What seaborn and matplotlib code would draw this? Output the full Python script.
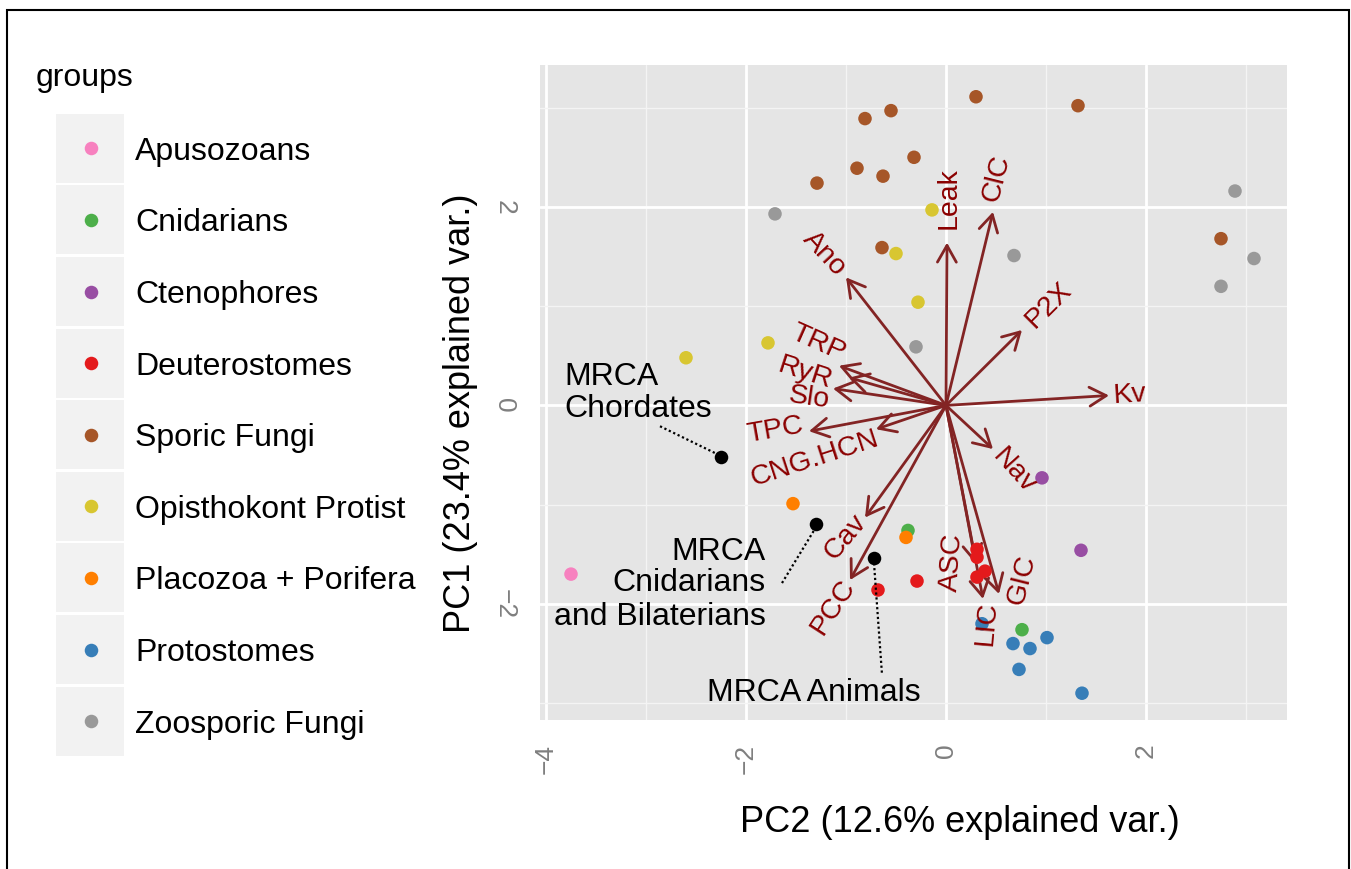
import numpy as np
import pandas as pd
import matplotlib
matplotlib.use("Agg")
import matplotlib.pyplot as plt
import seaborn as sns
from matplotlib.patches import Rectangle

# ---------------- data ----------------
groups = ["Apusozoans", "Cnidarians", "Ctenophores", "Deuterostomes",
          "Sporic Fungi", "Opisthokont Protist", "Placozoa + Porifera",
          "Protostomes", "Zoosporic Fungi"]
colors = ["#F781BF", "#4DAF4A", "#984EA3", "#E41A1C", "#A65628",
          "#D8C631", "#FF7F00", "#377EB8", "#999999"]

apuso_x = [-3.75]
apuso_y = [-1.70]
cnid_x = [-0.38, 0.76]
cnid_y = [-1.26, -2.26]
cteno_x = [0.96, 1.35]
cteno_y = [-0.73, -1.46]
deut_x = [-0.68, -0.29, 0.31, 0.31, 0.39, 0.31]
deut_y = [-1.86, -1.77, -1.45, -1.53, -1.67, -1.73]
sporic_x = [0.30, 1.32, -0.55, -0.81, -0.32, -0.89, -0.63, -1.29, -0.64, 2.75]
sporic_y = [3.11, 3.02, 2.97, 2.89, 2.50, 2.39, 2.31, 2.24, 1.59, 1.68]
opis_x = [-0.14, -0.50, -0.28, -1.78, -2.60]
opis_y = [1.97, 1.53, 1.04, 0.63, 0.48]
placo_x = [-1.53, -0.40]
placo_y = [-0.99, -1.33]
proto_x = [0.36, 0.67, 0.84, 1.01, 0.73, 1.36]
proto_y = [-2.20, -2.40, -2.45, -2.34, -2.66, -2.90]
zoo_x = [-1.71, 2.89, 0.68, 3.08, 2.75, -0.30]
zoo_y = [1.93, 2.16, 1.51, 1.48, 1.20, 0.59]

mrca_names = ["MRCA Chordates", "MRCA Cnidarians and Bilaterians", "MRCA Animals"]
mrca_x = [-2.25, -1.30, -0.72]
mrca_y = [-0.52, -1.20, -1.54]

var_names = ["Leak", "ClC", "Ano", "P2X", "Kv", "TRP", "RyR", "Slo", "TPC",
             "CNG.HCN", "Nav", "Cav", "PCC", "ASC", "LIC", "GIC"]
var_x = [0.01, 0.47, -1.00, 0.76, 1.63, -1.07, -0.97, -1.13, -1.37,
         -0.70, 0.47, -0.81, -0.96, 0.30, 0.37, 0.53]
var_y = [1.64, 1.95, 1.29, 0.76, 0.10, 0.40, 0.28, 0.17, -0.26,
         -0.24, -0.44, -1.13, -1.76, -1.60, -1.95, -1.90]
# label anchor (centre) and angle, as placed in the figure
lab_x = [0.03, 0.50, -1.22, 1.03, 1.84, -1.28, -1.41, -1.37, -1.71,
         -1.31, 0.68, -1.01, -1.13, 0.06, 0.41, 0.76]
lab_y = [2.09, 2.29, 1.53, 1.01, 0.10, 0.63, 0.32, 0.08, -0.25,
         -0.54, -0.66, -1.33, -2.03, -1.58, -2.20, -1.76]
lab_angle = [90, 76, -47, 45, 3.5, -24, -18, -8, 10,
             18, -48, 50, 57, 86, 85, 76]

x_ticks = [-4, -2, 0, 2]
y_ticks = [-2, 0, 2]

group_data = {
    "Apusozoans": (apuso_x, apuso_y),
    "Cnidarians": (cnid_x, cnid_y),
    "Ctenophores": (cteno_x, cteno_y),
    "Deuterostomes": (deut_x, deut_y),
    "Sporic Fungi": (sporic_x, sporic_y),
    "Opisthokont Protist": (opis_x, opis_y),
    "Placozoa + Porifera": (placo_x, placo_y),
    "Protostomes": (proto_x, proto_y),
    "Zoosporic Fungi": (zoo_x, zoo_y),
}
rows = []
for g in groups:
    xs, ys = group_data[g]
    for a, b in zip(xs, ys):
        rows.append((g, a, b))
df = pd.DataFrame(rows, columns=["group", "PC2", "PC1"])
mrca_df = pd.DataFrame({"name": mrca_names, "PC2": mrca_x, "PC1": mrca_y})

# ---------------- style ----------------
sns.set_theme(style="white")
plt.rcParams['font.family'] = ['Liberation Sans', 'DejaVu Sans']

W, H = 1351, 869
fig = plt.figure(figsize=(W / 100, H / 100), dpi=100)
fig.patch.set_facecolor("white")

L, R, T, B = 540, 1287, 65, 720
ax = fig.add_axes([L / W, 1 - B / H, (R - L) / W, (B - T) / H])
ax.set_facecolor("#E5E5E5")
ax.set_xlim(-4.06, 3.41)
ax.set_ylim(-3.17, 3.43)
for s in ax.spines.values():
    s.set_visible(False)

ax.set_xticks(x_ticks)
ax.set_yticks(y_ticks)
ax.set_xticks([-3, -1, 1, 3], minor=True)
ax.set_yticks([-3, -1, 1, 3], minor=True)
ax.grid(True, which="major", color="white", lw=2.0, zorder=0)
ax.grid(True, which="minor", color="#F4F4F4", lw=1.0, zorder=0)
ax.set_axisbelow(True)
ax.tick_params(which="major", length=10, width=1.5, color="#7F7F7F",
               labelcolor="#7F7F7F", labelsize=19, pad=7)
ax.tick_params(which="minor", length=0)
ax.set_xticklabels([str(t).replace("-", "\u2212") for t in x_ticks], rotation=90)
ax.set_yticklabels([str(t).replace("-", "\u2212") for t in y_ticks], rotation=270,
                   va="center")

# arrows (drawn first, below points)
for vx, vy in zip(var_x, var_y):
    ax.annotate("", xy=(vx, vy), xytext=(0, 0),
                arrowprops=dict(arrowstyle="->,head_length=0.6,head_width=0.34",
                                color="#832424", lw=2.0, shrinkA=0, shrinkB=0,
                                mutation_scale=20),
                zorder=2)

# points
sns.scatterplot(data=df, x="PC2", y="PC1", hue="group", hue_order=groups,
                palette=colors, s=95, linewidth=0, legend=False, ax=ax, zorder=3)
sns.scatterplot(data=mrca_df, x="PC2", y="PC1", color="black", s=95,
                linewidth=0, legend=False, ax=ax, zorder=3)
ax.set_xlabel("")
ax.set_ylabel("")

# variable labels
for name, tx, ty, ang in zip(var_names, lab_x, lab_y, lab_angle):
    ax.text(tx, ty, name, color="#8B0000", fontsize=20.5, rotation=ang,
            rotation_mode="anchor", ha="center", va="center", zorder=4)

# MRCA annotations
txtkw = dict(color="black", fontsize=23, zorder=5)
ax.text(-3.82, 0.204, "MRCA", ha="left", va="baseline", **txtkw)
ax.text(-3.82, -0.113, "Chordates", ha="left", va="baseline", **txtkw)
ax.plot([-2.86, -2.31], [-0.21, -0.48], ls=(0, (1, 1.2)), color="black", lw=1.6, zorder=5)

ax.text(-1.80, -1.558, "MRCA", ha="right", va="baseline", **txtkw)
ax.text(-1.80, -1.872, "Cnidarians", ha="right", va="baseline", **txtkw)
ax.text(-1.80, -2.21, "and Bilaterians", ha="right", va="baseline", **txtkw)
ax.plot([-1.64, -1.32], [-1.79, -1.26], ls=(0, (1, 1.2)), color="black", lw=1.6, zorder=5)

ax.text(-1.32, -2.98, "MRCA Animals", ha="center", va="baseline", **txtkw)
ax.plot([-0.72, -0.64], [-1.59, -2.71], ls=(0, (1, 1.2)), color="black", lw=1.6, zorder=5)

# axis titles
fig.text(960 / W, 1 - 822 / H, "PC2 (12.6% explained var.)", fontsize=26,
         ha="center", va="center", color="black")
fig.text(460 / W, 1 - 413 / H, "PC1 (23.4% explained var.)", fontsize=26,
         ha="center", va="center", rotation=90, color="black")

# ---------------- legend + frame (overlay in pixel coords) ----------------
ov = fig.add_axes([0, 0, 1, 1], facecolor="none")
ov.set_xlim(0, W)
ov.set_ylim(H, 0)
ov.axis("off")
ov.text(36, 86, "groups", fontsize=23, ha="left", va="baseline", color="black")
pitch = 71.6
for i, (g, c) in enumerate(zip(groups, colors)):
    cy = 148.3 + i * pitch
    ov.add_patch(Rectangle((56, cy - 34.5), 68, 69, facecolor="#F2F2F2",
                           edgecolor="none"))
    ov.scatter([90.5], [cy], s=95, color=c, linewidth=0)
    ov.text(135, cy + 11.5, g, fontsize=23, ha="left", va="baseline", color="black")

ov.plot([7, 7, 1349, 1349], [869, 10, 10, 869], color="black", lw=1.5,
        solid_joinstyle="miter")

fig.savefig("out.png", dpi=100)
